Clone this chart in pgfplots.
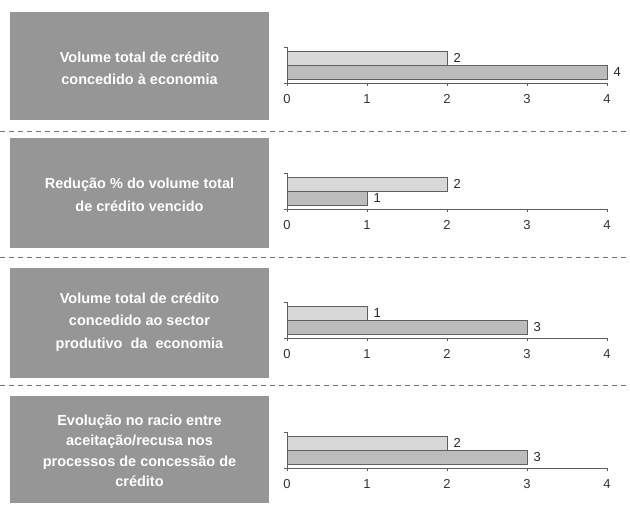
\documentclass[border=0pt]{standalone}
\usepackage{pgfplots}
\pgfplotsset{compat=1.18}
\usepackage{fontspec}
\setmainfont{Liberation Sans}
\definecolor{boxgray}{RGB}{150,150,150}
\definecolor{barlight}{RGB}{216,216,216}
\definecolor{bardark}{RGB}{188,188,188}
\definecolor{axgray}{RGB}{95,95,95}
\pgfplotsset{panel/.style={
  scale only axis, width=320pt, height=36pt, anchor=south west,
  xmin=0, xmax=4, ymin=0, ymax=36, enlargelimits=false,
  axis x line*=bottom, axis y line*=left,
  xtick={0,1,2,3,4}, ytick={0,36}, yticklabels={},
  tick align=outside, major tick length=3pt,
  axis line style={axgray, line width=0.7pt, -},
  tick style={axgray, line width=0.7pt},
  xbar, bar width=14, bar shift=0pt,
  /pgf/number format/assume math mode=true,
  tick label style={font=\fontsize{13}{15}\selectfont, text=black!80},
  xticklabel style={yshift=-5pt},
  nodes near coords, nodes near coords align=horizontal,
  every node near coord/.style={font=\fontsize{13}{15}\selectfont, text=black!85, anchor=west, xshift=3pt},
  clip=false,
}}
\tikzset{boxtext/.style={text=white, font=\bfseries\fontsize{14.5}{22.5}\selectfont, align=center}}
\begin{document}
\begin{tikzpicture}
\useasboundingbox (0,0) rectangle (630pt,-507pt);
% boxes
\fill[boxgray] (10pt,-12pt) rectangle (269pt,-120pt);
\fill[boxgray] (10pt,-138pt) rectangle (269pt,-248pt);
\fill[boxgray] (10pt,-268pt) rectangle (269pt,-378pt);
\fill[boxgray] (10pt,-396pt) rectangle (269pt,-503pt);
\node[boxtext] at (139.5pt,-68pt) {Volume total de crédito\\concedido à economia};
\node[boxtext] at (139.5pt,-195pt) {Redução \% do volume total\\de crédito vencido};
\node[boxtext] at (139.5pt,-322pt) {Volume total de crédito\\concedido ao sector\\produtivo\ \ da\ \ economia};
\node[boxtext, font=\bfseries\fontsize{14.5}{20.5}\selectfont] at (139.5pt,-451pt) {Evolução no racio entre\\aceitação/recusa nos\\processos de concessão de\\crédito};
% separators
\foreach \yy in {131,257,385}
  \draw[black!55, line width=0.7pt, dash pattern=on 5pt off 4pt] (0,-\yy pt) -- (630pt,-\yy pt);
% panel 1
\begin{axis}[panel, at={(287pt,-83pt)}]
\addplot[fill=bardark, draw=axgray] coordinates {(4,11)};
\addplot[fill=barlight, draw=axgray] coordinates {(2,25)};
\end{axis}
% panel 2
\begin{axis}[panel, at={(287pt,-209pt)}]
\addplot[fill=bardark, draw=axgray] coordinates {(1,11)};
\addplot[fill=barlight, draw=axgray] coordinates {(2,25)};
\end{axis}
% panel 3
\begin{axis}[panel, at={(287pt,-338pt)}]
\addplot[fill=bardark, draw=axgray] coordinates {(3,11)};
\addplot[fill=barlight, draw=axgray] coordinates {(1,25)};
\end{axis}
% panel 4
\begin{axis}[panel, at={(287pt,-468pt)}]
\addplot[fill=bardark, draw=axgray] coordinates {(3,11)};
\addplot[fill=barlight, draw=axgray] coordinates {(2,25)};
\end{axis}
\end{tikzpicture}
\end{document}
